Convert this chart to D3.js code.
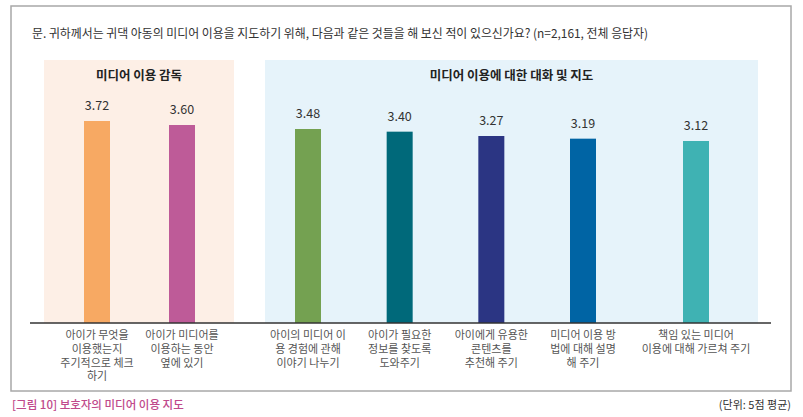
<!DOCTYPE html>
<html>
<head>
<meta charset="utf-8">
<script src="https://cdn.jsdelivr.net/npm/d3@7"></script>
<style>
  html, body { margin: 0; padding: 0; background: #fff; }
  svg { display: block; font-family: "Noto Sans CJK KR", "Noto Sans", sans-serif; }
</style>
</head>
<body>
<svg id="chart" width="803" height="417"></svg>
<script>
// ---- data ----
const titleText = "문. 귀하께서는 귀댁 아동의 미디어 이용을 지도하기 위해, 다음과 같은 것들을 해 보신 적이 있으신가요? (n=2,161, 전체 응답자)";
const groups = ["미디어 이용 감독", "미디어 이용에 대한 대화 및 지도"];
const categories = [
  ["아이가 무엇을", "이용했는지", "주기적으로 체크", "하기"],
  ["아이가 미디어를", "이용하는 동안", "옆에 있기"],
  ["아이의 미디어 이", "용 경험에 관해", "이야기 나누기"],
  ["아이가 필요한", "정보를 찾도록", "도와주기"],
  ["아이에게 유용한", "콘텐츠를", "추천해 주기"],
  ["미디어 이용 방", "법에 대해 설명", "해 주기"],
  ["책임 있는 미디어", "이용에 대해 가르쳐 주기"]
];
const values = [3.72, 3.60, 3.48, 3.40, 3.27, 3.19, 3.12];
const groupOf = [0, 0, 1, 1, 1, 1, 1];
const barColors = ["#F7A963", "#BE5B98", "#74A151", "#00697A", "#2B3583", "#0064A4", "#3FB2B3"];
const caption = "[그림 10] 보호자의 미디어 이용 지도";
const unitText = "(단위: 5점 평균)";

// ---- layout ----
const svg = d3.select("#chart");
const baseline = 323;
const barW = 26;

// index -> x centre (piecewise linear scale)
const x = d3.scaleLinear().domain([0, 1, 2, 5, 6]).range([97, 182, 308, 583, 696]);
// value -> y
const y = d3.scaleLinear().domain([3.12, 3.72]).range([141, 121]);

// outer frame
svg.append("rect")
  .attr("x", 11).attr("y", 6).attr("width", 780).attr("height", 385)
  .attr("fill", "#fff").attr("stroke", "#a8a8a8").attr("stroke-width", 1.5);

// title
const title = svg.append("text")
  .attr("x", 32).attr("y", 38)
  .attr("font-size", 12.5).attr("fill", "#333")
  .text(titleText);
const tw = title.node().getComputedTextLength();
if (tw > 616) title.attr("textLength", 616).attr("lengthAdjust", "spacingAndGlyphs");

// panels
const panels = [
  { x0: 44, x1: 234, fill: "#FDEFE6" },
  { x0: 265, x1: 758, fill: "#E6F3FA" }
];
svg.selectAll("rect.panel").data(panels).join("rect")
  .attr("class", "panel")
  .attr("x", d => d.x0).attr("y", 60)
  .attr("width", d => d.x1 - d.x0).attr("height", baseline - 60)
  .attr("fill", d => d.fill);

svg.selectAll("text.grp").data(groups).join("text")
  .attr("class", "grp")
  .attr("x", (d, i) => (panels[i].x0 + panels[i].x1) / 2)
  .attr("y", 80)
  .attr("text-anchor", "middle")
  .attr("font-size", 12.5).attr("font-weight", "bold").attr("fill", "#222")
  .text(d => d);

// bars
svg.selectAll("rect.bar").data(values).join("rect")
  .attr("class", "bar")
  .attr("x", (d, i) => x(i) - barW / 2)
  .attr("y", d => y(d))
  .attr("width", barW)
  .attr("height", d => baseline - y(d))
  .attr("fill", (d, i) => barColors[i]);

// value labels
svg.selectAll("text.val").data(values).join("text")
  .attr("class", "val")
  .attr("x", (d, i) => x(i))
  .attr("y", d => y(d) - 11)
  .attr("text-anchor", "middle")
  .attr("font-size", 12.5).attr("fill", "#333")
  .text(d => d.toFixed(2));

// baseline
svg.append("line")
  .attr("x1", 30).attr("x2", 771)
  .attr("y1", baseline).attr("y2", baseline)
  .attr("stroke", "#333").attr("stroke-width", 1.3);

// category labels
const cat = svg.selectAll("text.cat").data(categories).join("text")
  .attr("class", "cat")
  .attr("text-anchor", "middle")
  .attr("font-size", 11).attr("fill", "#555");
cat.each(function(lines, i) {
  d3.select(this).selectAll("tspan").data(lines).join("tspan")
    .attr("x", x(i))
    .attr("y", (l, j) => 339 + j * 13.8)
    .text(l => l);
});

// caption & unit
svg.append("text")
  .attr("x", 12).attr("y", 409)
  .attr("font-size", 11.5).attr("font-weight", 500).attr("fill", "#C0498B")
  .text(caption);
svg.append("text")
  .attr("x", 791).attr("y", 409)
  .attr("text-anchor", "end")
  .attr("font-size", 11).attr("fill", "#333")
  .text(unitText);
</script>
</body>
</html>
